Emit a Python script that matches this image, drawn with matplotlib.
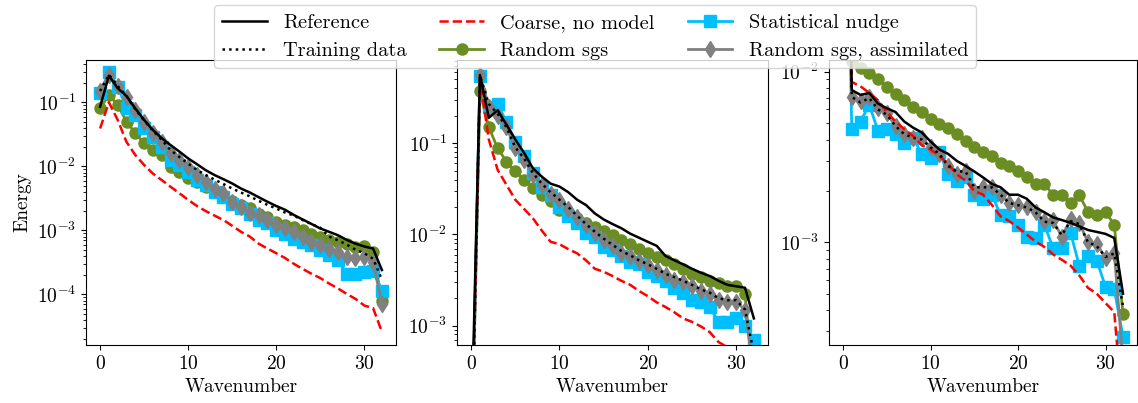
import numpy as np
import matplotlib
matplotlib.use("Agg")
import matplotlib.pyplot as plt

plt.rcParams.update({
    "font.family": "cmr10",
    "mathtext.fontset": "cm",
    "axes.formatter.use_mathtext": True,
    "font.size": 14,
})

k = np.arange(33)

# panel 1
ref1 = [0.085, 0.26, 0.166, 0.125, 0.080, 0.053, 0.037, 0.0275, 0.0215, 0.017, 0.0133,
        0.0108, 0.0087, 0.0073, 0.0063, 0.0054, 0.0045, 0.0039, 0.0033, 0.0028, 0.0024,
        0.0021, 0.00174, 0.00148, 0.00126, 0.00107, 0.00095, 0.00084, 0.00071, 0.00062,
        0.00056, 0.00052, 0.00024]
train1 = [0.15, 0.27, 0.18, 0.125, 0.078, 0.052, 0.036, 0.026, 0.018, 0.014, 0.011,
          0.0088, 0.0073, 0.0062, 0.0053, 0.0045, 0.0039, 0.0034, 0.0029, 0.0025, 0.0022,
          0.0019, 0.0017, 0.00145, 0.00125, 0.0011, 0.0008, 0.0007, 0.0006, 0.0005,
          0.00044, 0.00036, 0.00017]
coarse1 = [0.039, 0.10, 0.053, 0.024, 0.015, 0.0105, 0.0077, 0.0061, 0.0048, 0.0038, 0.003,
           0.0024, 0.002, 0.0017, 0.00145, 0.00118, 0.00095, 0.0008, 0.00062, 0.00052, 0.00044,
           0.00037, 0.0003, 0.00025, 0.00021, 0.00018, 0.000148, 0.000124, 0.000102, 8.5e-5,
           6.7e-5, 6.1e-5, 2.6e-5]
rand1 = [0.081, 0.13, 0.091, 0.050, 0.033, 0.023, 0.018, 0.015, 0.0099, 0.0082, 0.0065,
         0.0057, 0.0048, 0.0040, 0.0033, 0.0029, 0.0025, 0.0022, 0.0018, 0.0016, 0.00135,
         0.00122, 0.00112, 0.00101, 0.00089, 0.00079, 0.0007, 0.00066, 0.00062, 0.00055,
         0.00056, 0.00046, 8e-5]
nudge1 = [0.138, 0.30, 0.175, 0.081, 0.063, 0.039, 0.029, 0.020, 0.0125, 0.0105, 0.0082,
          0.0061, 0.0051, 0.0040, 0.0033, 0.0026, 0.0022, 0.0018, 0.00145, 0.00128, 0.001,
          0.00089, 0.00074, 0.00066, 0.00059, 0.00049, 0.00041, 0.00034, 0.00021, 0.00021,
          0.00022, 0.00023, 0.000115]
assim1 = [0.152, 0.27, 0.18, 0.123, 0.076, 0.05, 0.033, 0.024, 0.016, 0.0125, 0.0099,
          0.0073, 0.0057, 0.0045, 0.0038, 0.0028, 0.0023, 0.0019, 0.00173, 0.00145, 0.0012,
          0.00107, 0.00095, 0.0008, 0.00066, 0.00059, 0.00052, 0.00046, 0.00039, 0.00037,
          0.00039, 0.00032, 7.1e-5]

# panel 2
ref2 = [5e-5, 0.56, 0.19, 0.23, 0.16, 0.11, 0.078, 0.053, 0.043, 0.036, 0.0335,
        0.029, 0.024, 0.021, 0.017, 0.0146, 0.013, 0.0117, 0.0102, 0.0092, 0.0083,
        0.0075, 0.0058, 0.0052, 0.0047, 0.0042, 0.0038, 0.0035, 0.0031, 0.0028,
        0.0027, 0.0026, 0.0012]
train2 = [2e-5, 0.55, 0.27, 0.21, 0.15, 0.09, 0.068, 0.047, 0.036, 0.029, 0.024,
          0.02, 0.016, 0.013, 0.0107, 0.009, 0.0077, 0.0066, 0.0059, 0.0052, 0.0047,
          0.0042, 0.0037, 0.0034, 0.0031, 0.0028, 0.0025, 0.0023, 0.002, 0.0019,
          0.0019, 0.0015, 0.0005]
coarse2 = [2e-5, 0.50, 0.11, 0.051, 0.035, 0.024, 0.019, 0.015, 0.011, 0.0083, 0.0078,
           0.0069, 0.0062, 0.0052, 0.0042, 0.0039, 0.0035, 0.0031, 0.0028, 0.0024, 0.0021,
           0.0018, 0.0016, 0.0014, 0.0012, 0.0011, 0.00098, 0.00085, 0.00066, 0.00058,
           0.0005, 0.00045, 0.0001]
rand2 = [2e-5, 0.37, 0.15, 0.088, 0.063, 0.049, 0.040, 0.032, 0.027, 0.023, 0.0186,
         0.0165, 0.015, 0.0135, 0.012, 0.011, 0.0098, 0.0087, 0.0079, 0.0070, 0.0062,
         0.0057, 0.0052, 0.0047, 0.0042, 0.0037, 0.0034, 0.0031, 0.0029, 0.0027,
         0.0027, 0.0022, 0.0002]
nudge2 = [2e-5, 0.54, 0.25, 0.27, 0.17, 0.104, 0.072, 0.047, 0.033, 0.027, 0.020,
          0.016, 0.0135, 0.0103, 0.0093, 0.0073, 0.0067, 0.0058, 0.0050, 0.0047, 0.0039,
          0.0035, 0.0031, 0.0026, 0.0023, 0.0019, 0.0018, 0.0016, 0.0011, 0.0011,
          0.0012, 0.00098, 0.0007]
assim2 = [2e-5, 0.56, 0.25, 0.20, 0.15, 0.088, 0.066, 0.045, 0.035, 0.028, 0.024,
          0.019, 0.0155, 0.0127, 0.0103, 0.0087, 0.0074, 0.0063, 0.0058, 0.0051, 0.0046,
          0.0041, 0.0036, 0.0032, 0.0030, 0.0027, 0.0024, 0.0022, 0.0019, 0.0018,
          0.0018, 0.0015, 0.0003]

# panel 3
ref3 = [2.0, 0.0078, 0.0073, 0.0075, 0.0065, 0.0061, 0.0058, 0.0051, 0.0047, 0.0044, 0.0039,
        0.0035, 0.0033, 0.003, 0.0028, 0.0026, 0.0024, 0.0022, 0.0021, 0.0019, 0.0019,
        0.0018, 0.0016, 0.0015, 0.0014, 0.00135, 0.0013, 0.00124, 0.00118, 0.00115,
        0.00112, 0.00106, 0.0005]
train3 = [2.0, 0.0071, 0.0066, 0.0070, 0.006, 0.0056, 0.0048, 0.0043, 0.0041, 0.004, 0.0036,
          0.0033, 0.0028, 0.0026, 0.0026, 0.0021, 0.0021, 0.0021, 0.0019, 0.0017, 0.00165,
          0.0016, 0.0015, 0.00132, 0.0013, 0.0011, 0.00133, 0.00128, 0.001, 0.00095,
          0.00082, 0.00086, 0.00042]
coarse3 = [2.0, 0.0087, 0.0082, 0.0075, 0.0068, 0.0058, 0.0051, 0.0046, 0.0042, 0.0037, 0.0035,
           0.0032, 0.0029, 0.0025, 0.0023, 0.002, 0.0019, 0.00166, 0.00142, 0.00133, 0.00122,
           0.00111, 0.00101, 0.00094, 0.00085, 0.00079, 0.00073, 0.00064, 0.00054, 0.0005,
           0.00044, 0.00039, 0.0001]
rand3 = [2.0, 0.0115, 0.0105, 0.0098, 0.0091, 0.0081, 0.0074, 0.0068, 0.0062, 0.0058, 0.0053,
         0.0049, 0.0047, 0.0043, 0.0039, 0.0036, 0.0034, 0.0032, 0.0029, 0.0028, 0.0026,
         0.0024, 0.0022, 0.0022, 0.0019, 0.0019, 0.0017, 0.0019, 0.0015, 0.00145,
         0.0015, 0.00127, 0.00038]
nudge3 = [2.0, 0.0046, 0.0051, 0.0064, 0.0045, 0.0046, 0.0043, 0.0038, 0.0041, 0.0033, 0.0031,
          0.0034, 0.0025, 0.0023, 0.0024, 0.0019, 0.0018, 0.0019, 0.00145, 0.00142, 0.00127,
          0.00108, 0.00106, 0.00127, 0.00093, 0.00093, 0.00114, 0.00073, 0.00083, 0.00078,
          0.00055, 0.00053, 0.00028]
assim3 = [2.0, 0.0071, 0.0067, 0.0071, 0.0061, 0.0057, 0.0048, 0.0043, 0.0041, 0.0041, 0.0036,
          0.0033, 0.0028, 0.0025, 0.0026, 0.002, 0.0021, 0.0021, 0.0019, 0.0017, 0.00166,
          0.0016, 0.0015, 0.00133, 0.00135, 0.00108, 0.00136, 0.0013, 0.001, 0.00098,
          0.00081, 0.00087, 0.0002]

panels = [
    (ref1, train1, coarse1, rand1, nudge1, assim1, (1.62e-5, 0.458)),
    (ref2, train2, coarse2, rand2, nudge2, assim2, (6.13e-4, 0.818)),
    (ref3, train3, coarse3, rand3, nudge3, assim3, (2.5e-4, 0.0117)),
]

W, H = 1138, 403
fig = plt.figure(figsize=(W / 100, H / 100), dpi=100)
lefts = [86, 457, 829]
widths = [310, 311, 308]
axes = []
for left, width in zip(lefts, widths):
    axes.append(fig.add_axes([left / W, (H - 345) / H, width / W, 285 / H]))

for ax, (ref, train, coarse, rand, nudge, assim, ylim) in zip(axes, panels):
    ax.semilogy(k, ref, "k-", lw=1.8, zorder=5, label="Reference")
    ax.semilogy(k, train, "k:", lw=1.8, zorder=6, label="Training data")
    ax.semilogy(k, coarse, "r--", lw=1.8, zorder=4, label="Coarse, no model")
    ax.semilogy(k, rand, "-o", color="olivedrab", ms=8, lw=2, zorder=2, label="Random sgs")
    ax.semilogy(k, nudge, "-s", color="deepskyblue", ms=8, lw=2, zorder=2,
                label="Statistical nudge")
    ax.semilogy(k, assim, "-d", color="gray", ms=8, lw=2, zorder=3,
                label="Random sgs, assimilated")
    ax.set_ylim(*ylim)
    ax.set_xlim(-1.6, 33.6)
    ax.set_xticks([0, 10, 20, 30])
    ax.set_xlabel("Wavenumber")

axes[0].set_ylabel("Energy")

handles, labels = axes[0].get_legend_handles_labels()
fig.legend(handles, labels, loc="upper center", ncol=3,
           bbox_to_anchor=(595 / W, 1 + 5 / H), fontsize=14.7,
           handlelength=2.2, columnspacing=1.6, labelspacing=0.5)

fig.savefig("out.png", dpi=100)
